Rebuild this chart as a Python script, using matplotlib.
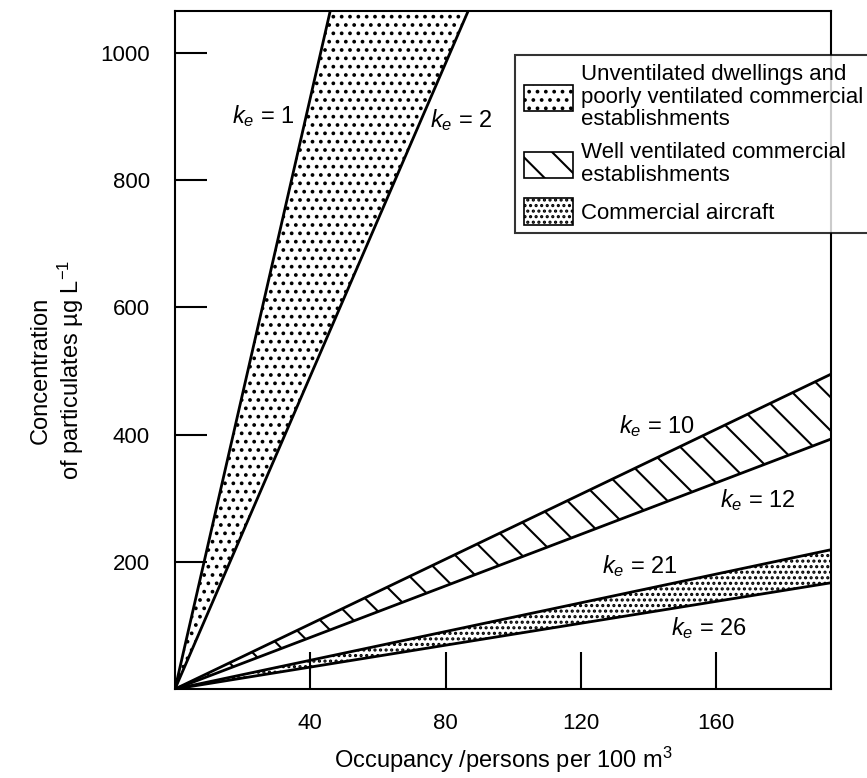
import matplotlib
matplotlib.use("Agg")
import matplotlib.pyplot as plt
from matplotlib.patches import Patch

# ventilation constants and where each line leaves the plot frame
ke = [1, 2, 10, 12, 21, 26]
x_end = [45.9, 86.7, 194, 194, 194, 194]
y_end = [1066, 1066, 495, 393, 219, 167]

# band pairs (index into ke) with legend text
bands = [(0, 1), (2, 3), (4, 5)]
band_names = ["Unventilated dwellings and\npoorly ventilated commercial\nestablishments",
              "Well ventilated commercial\nestablishments",
              "Commercial aircraft"]

x_ticks = [40, 80, 120, 160]
y_ticks = [200, 400, 600, 800, 1000]

plt.rcParams['font.family'] = ['Liberation Sans', 'DejaVu Sans']
plt.rcParams['mathtext.fontset'] = 'custom'
plt.rcParams['mathtext.rm'] = 'Liberation Sans'
plt.rcParams['mathtext.it'] = 'Liberation Sans:italic'
plt.rcParams['hatch.linewidth'] = 1.5

fig = plt.figure(figsize=(8.67, 7.78), dpi=100)
ax = fig.add_axes([175/867, 1-689/778, (831-175)/867, (689-11)/778])

hatches = ['..', '\\', '...']
for (a, b), h in zip(bands, hatches):
    xs = [0, x_end[a], x_end[b]]
    ys = [0, y_end[a], y_end[b]]
    ax.fill(xs, ys, facecolor='white', edgecolor='black', hatch=h, linewidth=0)

for i in range(len(ke)):
    ax.plot([0, x_end[i]], [0, y_end[i]], color='black', lw=2)

# line labels
lab_pos = [(26, 901), (84.5, 895), (142.5, 413), (172.5, 297), (137.5, 193), (158, 96)]
for k, (lx, ly) in zip(ke, lab_pos):
    ax.text(lx, ly, r"$k_e$ = %d" % k, fontsize=17, ha='center', va='center')

ax.set_xlim(0, 194)
ax.set_ylim(0, 1066)
ax.set_xticks(x_ticks)
ax.set_yticks(y_ticks)
ax.tick_params(direction='in', length=23, width=1.5, labelsize=16)
ax.tick_params(axis='x', length=27, pad=17)
ax.tick_params(axis='y', pad=18)
for s in ax.spines.values():
    s.set_linewidth(1.5)

ax.set_xlabel(r"Occupancy /persons per 100 m$^3$", fontsize=17, labelpad=8)
fig.text(58/867, 1-370/778, "Concentration\nof particulates \u00b5g L$^{-1}$",
         rotation=90, ha='center', va='center', fontsize=17, multialignment='center',
         linespacing=1.15)

handles = [Patch(facecolor='white', edgecolor='black', hatch=h, linewidth=1.2) for h in hatches]
leg = ax.legend(handles, band_names, loc='upper left', bbox_to_anchor=(0.518, 0.935),
                fontsize=16, frameon=True, fancybox=False, edgecolor='black',
                handlelength=2.2, handleheight=1.45, handletextpad=0.4,
                labelspacing=0.55, borderpad=0.4, borderaxespad=0)
leg.get_frame().set_linewidth(1.5)
for t in leg.get_texts():
    t.set_linespacing(1.1)

fig.savefig("out.png", dpi=100)
